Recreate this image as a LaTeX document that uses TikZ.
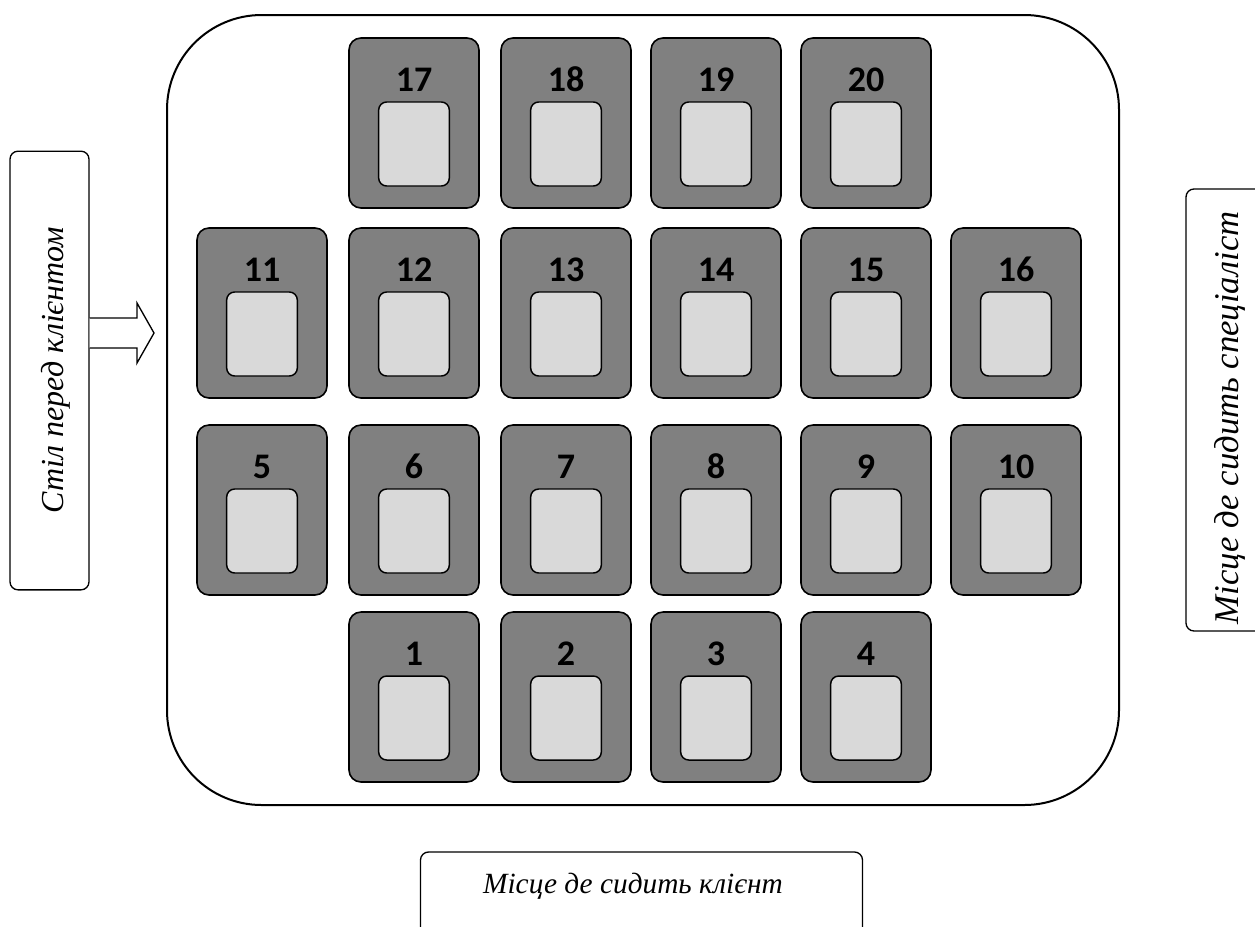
\documentclass[tikz,border=0pt]{standalone}
\usepackage{fontspec}
\setmainfont{Liberation Serif}
\newfontfamily\numfont{Carlito}
\begin{document}
\begin{tikzpicture}[x=0.75pt,y=-0.75pt,
  seat/.style={draw=black,line width=1.2pt,fill=seatgray,rounded corners=9pt,
    minimum width=97.5pt,minimum height=127.5pt,inner sep=0pt},
  chair/.style={draw=black,line width=1.1pt,fill=chairgray,rounded corners=6pt,
    minimum width=53pt,minimum height=63pt,inner sep=0pt},
  num/.style={font=\numfont\bfseries\fontsize{27}{30}\selectfont,inner sep=0pt,anchor=base},
  labelbox/.style={draw=black,line width=1pt,rounded corners=6pt,fill=white,inner sep=0pt},
  labeltext/.style={inner sep=0pt,anchor=base,font=\itshape\fontsize{24}{28}\selectfont},
]
\definecolor{seatgray}{HTML}{808080}
\definecolor{chairgray}{HTML}{D9D9D9}
\useasboundingbox (0,0) rectangle (1255,926);
\clip (0,0) rectangle (1255,926);
% room
\node[draw=black,line width=1.5pt,rounded corners=71pt,minimum width=714pt,minimum height=592.5pt,inner sep=0pt] (room) at (643,410) {};
% seats
\foreach \n/\cx/\cy in {17/414/123,18/566/123,19/716/123,20/866/123,
  11/262/313,12/414/313,13/566/313,14/716/313,15/866/313,16/1016/313,
  5/262/510,6/414/510,7/566/510,8/716/510,9/866/510,10/1016/510,
  1/414/697,2/566/697,3/716/697,4/866/697}{
  \node[seat] (s\n) at (\cx,\cy) {};
  \node[chair] (c\n) at (\cx,\cy+21) {};
  \node[num] (n\n) at (\cx,\cy-32) {\n};
}
% left label
\node[labelbox,minimum width=329pt,minimum height=59.25pt,rotate=90] (left) at (49.5,370.5) {};
\node[labeltext,rotate=90] (ltext) at (63,370) {Стіл перед клієнтом};
% right label
\node[labelbox,minimum width=331.5pt,minimum height=60pt,rotate=90] (right) at (1226,410) {};
\node[labeltext,rotate=90,font=\itshape\fontsize{26}{30}\selectfont] (rtext) at (1238,418) {Місце де сидить спеціаліст};
% bottom label
\node[labelbox,minimum width=331.5pt,minimum height=75pt] (bottom) at (641.5,902) {};
\node[labeltext,font=\itshape\fontsize{22}{26}\selectfont] (btext) at (633,893) {Місце де сидить клієнт};
% block arrow from the left label towards the room
\coordinate (as) at (left.south);
\coordinate (ah) at (137,333);
\coordinate (at) at (room.west |- ah);
\draw[line width=1pt,fill=white]
  (as |- 0,318) -- (ah |- 0,318) -- (ah |- 0,303) -- ([xshift=-9pt]at) -- (ah |- 0,363) -- (ah |- 0,348) -- (as |- 0,348);
\end{tikzpicture}
\end{document}
